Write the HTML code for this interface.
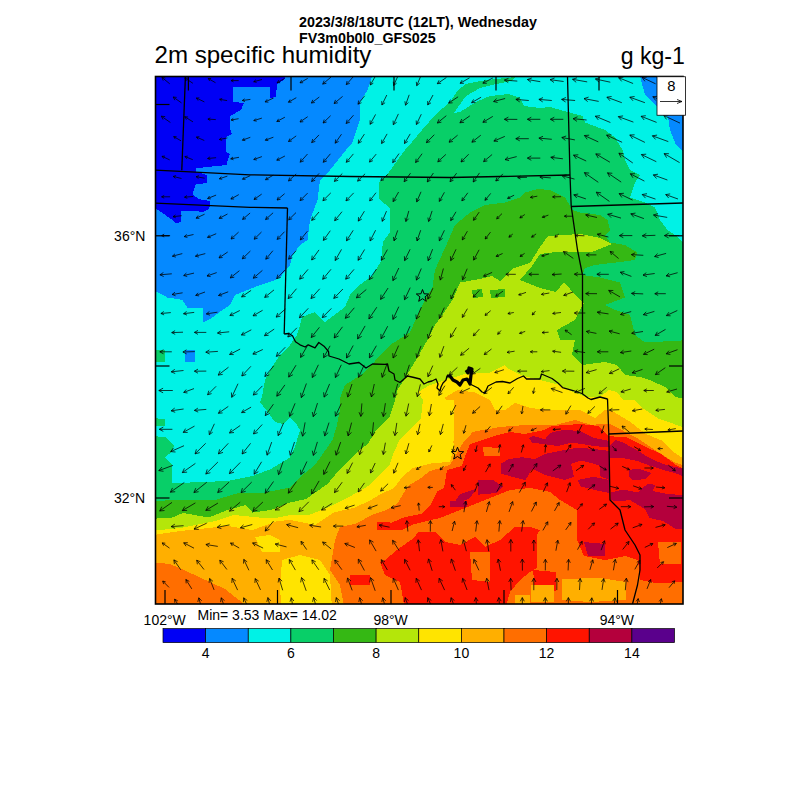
<!DOCTYPE html><html><head><meta charset="utf-8"><style>html,body{margin:0;padding:0;background:#fff;width:800px;height:800px;overflow:hidden}svg{display:block}text{font-family:"Liberation Sans",sans-serif}</style></head><body>
<svg width="800" height="800" viewBox="0 0 800 800">
<defs><clipPath id="mc"><rect x="155.5" y="76.5" width="527.5" height="527.5"/></clipPath></defs>
<g clip-path="url(#mc)" shape-rendering="crispEdges">
<rect x="155.5" y="76.5" width="527.5" height="527.5" fill="#00f2e6"/>
<path d="M150.0,70.0 L372.0,70.0 L372.0,76.0 L367.5,90.0 L360.0,102.0 L360.0,120.0 L352.5,142.5 L350.0,145.0 L330.0,170.0 L320.0,180.0 L317.5,200.0 L310.0,220.0 L307.5,240.0 L300.0,245.0 L292.5,255.0 L290.0,265.0 L280.0,277.5 L275.0,280.0 L260.0,285.0 L245.0,291.0 L235.0,295.0 L230.0,305.0 L222.5,310.0 L212.5,317.5 L202.5,322.5 L202.5,307.5 L187.5,307.5 L182.5,300.0 L167.5,297.5 L155.0,291.0 L150.0,291.0Z" fill="#0589ff"/>
<path d="M185.0,350.0 L195.0,350.0 L195.0,362.0 L185.0,362.0Z" fill="#0589ff"/>
<path d="M640.0,70.0 L640.0,76.0 L645.0,95.0 L655.0,105.0 L662.0,112.0 L668.0,117.0 L670.0,130.0 L676.0,145.0 L683.0,152.0 L690.0,152.0 L690.0,70.0Z" fill="#0589ff"/>
<path d="M150.0,70.0 L290.0,70.0 L284.0,80.0 L277.0,84.0 L276.0,97.0 L270.0,98.0 L270.0,87.0 L233.0,87.0 L233.0,102.0 L244.0,103.0 L241.0,110.0 L230.0,116.0 L230.0,129.0 L232.0,134.0 L226.0,137.0 L225.6,152.0 L229.7,154.0 L226.4,165.0 L195.5,168.3 L195.5,171.5 L207.0,175.0 L207.0,183.0 L195.5,184.6 L192.3,194.3 L198.8,199.2 L210.2,201.0 L209.3,209.0 L202.0,212.2 L195.5,210.6 L181.0,210.6 L181.0,222.0 L176.0,223.6 L172.8,220.3 L161.4,212.2 L150.0,205.0Z" fill="#0000f5"/>
<path d="M516.0,70.0 L516.0,77.0 L496.0,79.0 L480.0,81.0 L466.0,84.0 L458.0,90.0 L450.0,102.0 L436.0,114.0 L422.0,130.0 L412.0,142.0 L405.0,150.0 L399.0,158.0 L387.0,175.0 L379.0,182.0 L379.0,199.0 L389.6,207.7 L389.6,233.0 L383.0,241.7 L381.0,261.0 L372.5,275.7 L357.7,286.4 L350.0,295.0 L345.0,307.0 L325.0,322.0 L317.0,315.0 L315.0,312.0 L302.0,317.0 L300.0,325.0 L297.0,335.0 L290.0,345.0 L280.0,355.0 L272.0,367.0 L265.0,380.0 L262.0,397.0 L260.0,402.0 L270.0,415.0 L275.0,422.0 L283.0,424.0 L290.0,417.0 L297.0,425.0 L300.0,430.0 L295.0,447.0 L290.0,457.5 L271.0,469.0 L252.5,476.0 L227.5,481.0 L190.0,482.5 L172.0,483.0 L172.0,465.0 L165.0,457.0 L172.0,452.0 L174.0,445.0 L165.0,437.0 L150.0,436.0 L150.0,610.0 L690.0,610.0 L690.0,250.0 L675.0,235.0 L667.5,230.0 L660.0,220.0 L655.0,207.5 L645.0,202.5 L630.0,197.5 L635.0,182.5 L640.0,175.0 L630.0,170.0 L625.0,160.0 L622.5,150.0 L615.0,137.5 L605.0,130.0 L585.0,122.5 L582.5,116.0 L575.0,114.0 L550.0,107.0 L540.0,108.0 L524.0,106.0 L520.0,98.0 L508.0,94.0 L490.0,96.0 L476.0,102.0 L460.0,112.0 L454.0,113.0 L456.0,110.0 L466.0,96.0 L480.0,88.0 L496.0,84.0 L512.0,81.0 L520.0,70.0Z" fill="#08cf68"/>
<path d="M150.0,350.0 L165.0,350.0 L165.0,362.0 L150.0,362.0Z" fill="#08cf68"/>
<path d="M150.0,418.0 L165.0,419.0 L165.0,426.0 L150.0,426.0Z" fill="#08cf68"/>
<path d="M435.0,270.0 L445.0,248.0 L455.0,225.0 L470.0,212.5 L485.0,205.0 L505.0,202.5 L520.0,197.5 L525.0,192.5 L537.5,189.0 L550.0,190.0 L565.0,197.5 L572.5,210.0 L580.0,212.5 L600.0,215.0 L607.5,220.0 L610.0,230.0 L605.0,235.0 L610.0,242.5 L625.0,245.0 L637.5,252.5 L635.0,260.0 L620.0,262.0 L595.0,265.0 L585.0,268.0 L582.5,275.0 L600.0,277.5 L620.0,282.5 L625.0,297.5 L605.0,305.0 L615.0,310.0 L630.0,315.0 L632.5,325.0 L635.0,335.0 L645.0,342.5 L690.0,340.0 L690.0,610.0 L150.0,610.0 L150.0,501.0 L195.0,499.5 L215.0,500.0 L240.0,492.5 L265.0,492.5 L290.0,487.5 L302.5,475.0 L315.0,465.0 L332.5,440.0 L337.0,425.0 L340.0,410.0 L340.0,398.0 L345.0,385.0 L361.0,375.0 L375.0,361.0 L390.0,345.0 L410.0,332.5 L417.5,315.0 L425.0,300.0 L432.5,287.5Z" fill="#35b814"/>
<path d="M150.0,519.0 L172.5,517.5 L183.0,513.0 L209.0,517.5 L227.5,510.0 L246.0,505.0 L252.5,512.5 L271.0,510.0 L290.0,502.5 L306.0,499.0 L327.5,484.0 L340.0,469.0 L356.0,453.0 L367.6,444.0 L377.0,429.0 L390.0,416.0 L395.0,400.0 L397.5,390.0 L402.5,382.5 L410.0,370.0 L417.5,357.5 L427.5,340.0 L435.0,325.0 L442.5,315.0 L452.5,300.0 L460.0,282.5 L480.0,279.0 L492.0,276.0 L500.0,281.0 L514.0,268.0 L530.0,263.0 L540.0,247.0 L548.0,236.0 L580.0,234.0 L600.0,238.0 L612.0,244.0 L592.0,252.0 L556.0,252.0 L540.0,254.0 L532.0,266.0 L520.0,280.0 L540.0,288.0 L556.0,292.0 L564.0,282.0 L576.0,296.0 L584.0,303.0 L580.0,310.0 L575.0,320.0 L557.0,330.0 L560.0,340.0 L575.0,340.0 L572.0,355.0 L582.0,365.0 L605.0,362.0 L617.0,365.0 L625.0,375.0 L640.0,377.0 L650.0,380.0 L665.0,387.0 L675.0,397.0 L690.0,400.0 L690.0,610.0 L150.0,610.0Z" fill="#b4e60a"/>
<path d="M472.0,290.0 L482.0,289.0 L483.0,297.0 L473.0,298.0Z" fill="#35b814"/>
<path d="M490.0,290.0 L505.0,289.0 L505.0,297.0 L491.0,298.0Z" fill="#35b814"/>
<path d="M150.0,531.0 L180.0,528.0 L215.0,521.0 L234.0,515.0 L259.0,517.5 L277.5,517.5 L290.0,515.0 L309.0,515.0 L327.5,507.5 L352.5,495.0 L370.0,485.0 L381.0,473.0 L390.0,464.0 L394.0,452.0 L400.0,439.0 L411.0,429.0 L421.0,418.0 L423.0,400.0 L418.0,392.0 L430.0,385.0 L445.0,380.0 L470.0,372.5 L490.0,372.5 L505.0,365.0 L507.0,368.0 L522.0,375.5 L540.0,380.0 L558.0,384.5 L573.0,392.0 L585.0,396.5 L600.0,396.5 L609.0,390.0 L617.0,392.0 L623.0,400.0 L634.0,400.0 L644.0,409.0 L659.0,419.0 L674.0,424.0 L690.0,430.0 L690.0,610.0 L150.0,610.0Z" fill="#ffe400"/>
<path d="M150.0,535.5 L180.0,531.0 L227.5,526.0 L252.5,530.0 L277.5,521.0 L290.0,520.0 L315.0,525.0 L334.0,512.5 L355.0,507.5 L371.0,500.0 L381.0,494.0 L394.0,488.0 L403.0,476.0 L413.0,468.0 L433.0,463.0 L450.0,462.0 L454.0,445.0 L450.0,432.0 L447.0,413.0 L446.0,400.0 L445.0,397.5 L457.5,390.0 L475.0,392.5 L490.0,400.0 L495.0,410.0 L505.0,410.0 L515.0,403.0 L530.0,408.0 L550.0,410.0 L580.0,410.0 L595.0,418.0 L605.0,410.0 L612.0,411.0 L629.0,421.0 L646.0,434.0 L663.0,441.0 L674.0,452.5 L690.0,463.0 L690.0,610.0 L150.0,610.0Z" fill="#ffaf00"/>
<path d="M282.0,560.0 L300.0,555.0 L320.0,560.0 L330.0,575.0 L332.0,610.0 L282.0,610.0 L280.0,590.0Z" fill="#ffe400"/>
<path d="M255.0,537.0 L270.0,535.0 L280.0,540.0 L280.0,552.0 L262.0,552.0Z" fill="#ffe400"/>
<path d="M440.0,400.0 L454.0,400.0 L454.0,440.0 L447.0,458.0 L440.0,455.0Z" fill="#ffe400"/>
<path d="M150.0,562.0 L170.0,564.0 L184.0,570.0 L200.0,577.5 L225.0,589.0 L244.0,604.0 L244.0,610.0 L150.0,610.0Z" fill="#ff6e00"/>
<path d="M335.0,540.0 L340.0,527.0 L356.0,523.6 L372.0,515.0 L386.0,510.0 L397.0,504.0 L408.0,486.0 L421.0,478.0 L429.0,471.5 L450.0,465.0 L464.0,441.0 L470.0,436.0 L472.0,432.0 L500.0,427.0 L525.0,425.0 L555.0,425.0 L575.0,420.0 L592.0,425.0 L600.0,424.0 L610.0,424.0 L636.0,437.5 L659.0,452.5 L674.0,462.0 L690.0,468.0 L690.0,610.0 L345.0,610.0 L340.0,585.0 L330.0,570.0Z" fill="#ff6e00"/>
<path d="M382.0,530.0 L389.0,523.6 L405.0,517.0 L421.0,514.0 L431.0,504.0 L437.6,491.0 L444.0,488.0 L447.0,470.0 L462.0,466.0 L466.0,454.0 L470.0,444.0 L494.0,436.0 L510.0,432.0 L524.0,434.0 L544.0,430.0 L552.0,426.0 L580.0,424.0 L599.0,426.0 L608.0,436.0 L627.0,437.5 L642.0,445.0 L661.0,454.0 L677.5,466.0 L690.0,471.0 L690.0,582.0 L655.0,583.0 L640.0,580.0 L638.0,560.0 L625.0,556.0 L605.0,560.0 L584.0,556.0 L577.0,540.0 L577.0,510.0 L560.0,500.0 L550.0,492.0 L530.0,488.0 L510.0,490.0 L490.0,498.0 L460.0,510.0 L440.0,518.0 L431.0,520.0 L411.5,525.0 L401.8,530.0Z" fill="#ff1400"/>
<path d="M380.0,562.0 L385.0,560.0 L397.0,550.0 L415.0,537.0 L418.0,532.0 L435.0,532.0 L445.0,542.0 L460.0,545.0 L475.0,537.0 L485.0,547.0 L500.0,540.0 L515.0,527.0 L530.0,527.0 L540.0,530.0 L537.0,535.0 L537.0,568.0 L530.0,572.0 L520.0,580.0 L510.0,592.0 L505.0,610.0 L405.0,610.0 L400.0,582.0 L385.0,575.0Z" fill="#ff1400"/>
<path d="M350.0,575.0 L370.0,575.0 L370.0,585.0 L350.0,585.0Z" fill="#ff1400"/>
<path d="M533.0,570.0 L556.0,572.0 L556.0,591.0 L535.0,590.0Z" fill="#ff1400"/>
<path d="M377.0,522.0 L390.0,522.0 L390.0,530.0 L377.0,530.0Z" fill="#ff1400"/>
<path d="M470.0,552.0 L490.0,552.0 L490.0,582.0 L472.0,580.0Z" fill="#ff6e00"/>
<path d="M658.0,542.0 L681.0,542.0 L681.0,564.0 L660.0,564.0Z" fill="#ff6e00"/>
<path d="M562.0,579.0 L600.0,578.0 L626.0,582.0 L626.0,600.0 L590.0,602.0 L562.0,600.0Z" fill="#ffaf00"/>
<path d="M531.0,585.0 L554.0,585.0 L554.0,602.0 L531.0,602.0Z" fill="#ffaf00"/>
<path d="M515.0,595.0 L530.0,595.0 L530.0,610.0 L515.0,610.0Z" fill="#ffaf00"/>
<path d="M528.8,437.8 L533.7,436.0 L545.0,439.4 L550.0,433.0 L564.5,429.6 L580.8,431.3 L593.8,437.8 L609.0,441.0 L609.0,447.5 L593.8,446.0 L584.0,444.3 L571.0,442.6 L558.0,446.0 L545.0,444.3 L532.0,442.6Z" fill="#b4003c"/>
<path d="M501.0,463.8 L509.0,459.0 L522.0,457.3 L535.0,459.0 L545.0,454.0 L561.0,450.8 L577.6,447.5 L593.8,449.0 L609.0,450.8 L609.0,468.7 L593.8,463.8 L581.0,460.5 L571.0,463.8 L574.0,476.8 L564.5,480.0 L545.0,475.0 L532.0,468.7 L525.5,480.0 L512.5,476.8 L501.0,473.5Z" fill="#b4003c"/>
<path d="M478.0,480.0 L493.0,480.0 L502.8,486.5 L496.0,493.0 L478.0,494.7Z" fill="#b4003c"/>
<path d="M577.6,480.0 L593.8,476.8 L609.0,480.0 L609.0,493.0 L593.8,489.8 L581.0,486.5Z" fill="#b4003c"/>
<path d="M609.0,446.0 L615.0,440.0 L624.0,443.0 L637.5,450.5 L649.5,458.0 L663.0,464.0 L675.0,467.0 L690.0,470.0 L690.0,479.0 L675.0,473.0 L663.0,470.0 L649.5,465.5 L637.5,461.0 L622.5,458.0 L610.5,458.0Z" fill="#b4003c"/>
<path d="M628.5,470.0 L637.5,468.5 L651.0,473.0 L645.0,479.0 L633.0,480.5 L628.5,476.0Z" fill="#b4003c"/>
<path d="M610.5,492.5 L622.5,489.5 L637.5,492.5 L648.0,483.5 L655.5,485.0 L652.5,491.0 L667.5,494.0 L690.0,495.5 L690.0,530.0 L675.0,528.5 L663.0,521.0 L649.5,518.0 L645.0,509.0 L630.0,500.0 L618.0,501.5 L610.5,500.0Z" fill="#b4003c"/>
<path d="M600.0,455.0 L609.0,452.0 L609.0,480.0 L600.0,476.0Z" fill="#b4003c"/>
<path d="M584.0,542.0 L605.0,544.0 L605.0,556.0 L588.0,556.0Z" fill="#b4003c"/>
<path d="M450.0,501.0 L467.0,501.0 L467.0,507.0 L450.0,507.0Z" fill="#b4003c"/>
<path d="M460.0,494.0 L476.0,489.0 L470.0,498.0 L452.0,506.0Z" fill="#b4003c"/>
<path d="M483.0,447.0 L500.0,448.0 L500.0,456.0 L484.0,456.0Z" fill="#ff6e00"/>
</g>
<g clip-path="url(#mc)">
<polyline points="185.4,76.5 181.8,170.2" fill="none" stroke="#000" stroke-width="1.30" stroke-linejoin="round"/>
<polyline points="155.5,170.2 250.0,174.8 350.0,176.5 450.0,177.5 500.0,176.5 570.0,175.0" fill="none" stroke="#000" stroke-width="1.30" stroke-linejoin="round"/>
<polyline points="155.5,203.2 250.0,207.3 287.5,208.0" fill="none" stroke="#000" stroke-width="1.30" stroke-linejoin="round"/>
<polyline points="287.5,208.0 284.2,334.0" fill="none" stroke="#000" stroke-width="1.30" stroke-linejoin="round"/>
<polyline points="284.2,334.0 288.8,333.5 292.5,335.8 295.5,341.8 300.0,344.8 305.2,347.0 308.2,344.8 315.0,347.8 318.8,342.5 324.0,346.2 328.5,351.5 329.0,356.0 339.0,359.0 349.0,364.0 359.0,362.5 366.0,368.0 372.5,364.0 385.0,364.4 387.5,364.0 389.0,371.0 394.0,374.0 395.0,380.0 400.0,382.5 407.5,376.0 414.0,377.5 420.0,379.0 424.0,384.0 428.0,382.0 432.0,381.0 436.0,379.0 438.0,384.0 437.0,388.0 440.0,391.0 441.0,387.0 443.0,383.0 446.0,380.0 447.0,376.0 450.0,376.0 453.0,380.0 457.0,382.0 460.0,385.0 463.0,380.0 467.0,379.0 469.0,382.0 470.0,384.0 474.0,386.0 478.0,388.0 482.0,392.0 485.0,393.0 488.0,386.0 492.0,384.0 496.0,382.0 502.5,381.5 510.0,383.0 517.5,378.5 523.5,376.0 526.5,379.0 540.0,379.0 541.5,374.0 552.0,378.5 558.0,383.0 562.5,387.5 573.0,390.5 582.0,393.5 588.0,398.0 591.0,399.5 600.0,397.0 607.5,399.0" fill="none" stroke="#000" stroke-width="1.30" stroke-linejoin="round"/>
<polyline points="567.5,76.5 570.0,175.0 571.2,206.2 577.5,250.0 582.5,275.0 582.5,393.8" fill="none" stroke="#000" stroke-width="1.30" stroke-linejoin="round"/>
<polyline points="571.2,206.5 683.0,203.0" fill="none" stroke="#000" stroke-width="1.30" stroke-linejoin="round"/>
<polyline points="607.5,398.8 608.8,434.0 683.0,431.0" fill="none" stroke="#000" stroke-width="1.30" stroke-linejoin="round"/>
<polyline points="608.8,434.0 610.0,500.0 620.0,510.0 625.0,530.0 635.0,545.0 640.0,555.0 640.0,570.0 637.5,585.0 632.5,604.0" fill="none" stroke="#000" stroke-width="1.30" stroke-linejoin="round"/>
<polyline points="447.0,376.0 450.0,376.0 453.0,380.0 457.0,382.0 460.0,385.0 463.0,380.0 467.0,379.0 469.0,382.0 470.0,384.0 471.0,375.0 472.0,369.0 469.0,368.0 468.0,373.0 466.0,370.0" fill="none" stroke="#000" stroke-width="3.20" stroke-linejoin="round"/>
</g>
<g clip-path="url(#mc)"><path d="M169.8,83.9L161.9,77.3M165.4,78.0L161.9,77.3L163.2,80.6M192.9,83.3L184.8,77.9M188.2,78.2L184.8,77.9L186.4,80.9M215.5,82.7L208.2,78.5M211.1,78.5L208.2,78.5L209.7,81.0M238.7,80.6L231.0,80.6M233.5,79.3L231.0,80.6L233.5,81.9M262.0,79.5L253.7,81.7M255.9,79.6L253.7,81.7L256.6,82.4M284.5,78.5L277.2,82.7M278.7,80.2L277.2,82.7L280.1,82.7M307.7,78.4L300.0,82.8M301.6,80.2L300.0,82.8L303.1,82.7M331.0,77.1L322.7,84.1M324.1,80.6L322.7,84.1L326.4,83.3M353.4,76.6L346.3,84.6M347.1,81.0L346.3,84.6L349.8,83.3M375.4,76.2L370.3,85.0M370.4,81.4L370.3,85.0L373.3,83.2M398.1,75.7L393.6,85.5M393.3,81.7L393.6,85.5L396.6,83.2M421.0,75.5L416.7,85.7M416.3,81.8L416.7,85.7L419.7,83.3M446.4,77.5L437.3,83.7M439.0,80.3L437.3,83.7L441.1,83.3M469.6,77.8L460.1,83.3M462.1,80.1L460.1,83.3L463.9,83.3M492.8,78.0L482.9,83.2M485.1,79.9L482.9,83.2L486.8,83.3M517.3,81.1L504.4,80.1M508.5,78.3L504.4,80.1L508.2,82.6M540.3,81.7L527.4,79.5M531.8,78.0L527.4,79.5L531.0,82.3M563.6,81.5L550.1,79.7M554.6,78.0L550.1,79.7L554.0,82.5M587.2,81.9L572.5,79.3M577.0,77.8L572.5,79.3L576.2,82.3M610.3,82.2L595.4,79.0M600.1,77.6L595.4,79.0L599.1,82.1M633.1,83.5L618.6,77.7M623.4,77.1L618.6,77.7L621.7,81.4M655.6,83.8L642.1,77.4M646.8,77.1L642.1,77.4L644.9,81.3M678.9,83.8L664.8,77.4M669.6,77.0L664.8,77.4L667.7,81.2M181.5,102.9L173.2,97.0M176.7,97.4L173.2,97.0L174.8,100.2M204.4,101.9L196.3,98.0M199.4,97.9L196.3,98.0L198.1,100.6M227.1,100.6L219.6,99.3M222.2,98.4L219.6,99.3L221.8,101.1M250.4,99.4L242.3,100.5M244.6,98.8L242.3,100.5L245.0,101.5M273.6,98.0L265.1,101.9M267.1,99.3L265.1,101.9L268.4,102.2M296.3,97.7L288.4,102.2M290.1,99.5L288.4,102.2L291.6,102.2M319.3,97.0L311.4,103.0M312.8,99.8L311.4,103.0L314.8,102.5M342.6,96.4L334.1,103.5M335.5,99.9L334.1,103.5L337.9,102.8M364.7,95.8L358.0,104.2M358.6,100.5L358.0,104.2L361.5,102.7M386.8,95.0L381.9,105.0M381.7,101.1L381.9,105.0L385.1,102.7M409.2,94.8L405.5,105.2M404.9,101.3L405.5,105.2L408.4,102.6M433.0,95.0L427.7,104.9M427.7,101.0L427.7,104.9L431.0,102.8M458.1,96.8L448.6,103.1M450.5,99.6L448.6,103.1L452.6,102.8M481.1,97.2L471.6,102.7M473.6,99.4L471.6,102.7L475.4,102.6M505.1,98.5L493.6,101.5M496.6,98.6L493.6,101.5L497.6,102.5M528.8,100.5L515.9,99.4M520.0,97.6L515.9,99.4L519.7,101.9M551.8,100.5L538.9,99.4M543.0,97.6L538.9,99.4L542.7,101.9M575.1,100.5L561.6,99.4M565.9,97.5L561.6,99.4L565.6,102.0M598.7,101.4L584.0,98.6M588.6,97.1L584.0,98.6L587.7,101.6M621.8,102.7L606.9,97.2M611.6,96.5L606.9,97.2L610.0,100.8M644.9,102.7L629.8,97.2M634.6,96.5L629.8,97.2L633.0,100.8M667.9,103.2L652.8,96.7M657.6,96.3L652.8,96.7L655.7,100.5M170.4,122.5L161.3,116.2M165.2,116.6L161.3,116.2L163.0,119.6M193.0,121.9L184.7,116.7M188.1,117.0L184.7,116.7L186.4,119.7M215.8,119.6L207.9,119.1M210.4,117.9L207.9,119.1L210.3,120.6M238.6,118.7L231.1,120.0M233.3,118.3L231.1,120.0L233.7,120.9M261.9,118.1L253.8,120.6M255.9,118.5L253.8,120.6L256.7,121.2M284.9,117.2L276.8,121.5M278.6,118.8L276.8,121.5L280.0,121.5M307.7,116.7L300.0,122.0M301.5,119.1L300.0,122.0L303.3,121.7M330.6,115.7L323.1,123.0M324.2,119.5L323.1,123.0L326.6,122.0M353.5,115.2L346.2,123.5M347.1,119.7L346.2,123.5L349.9,122.1M375.6,114.4L370.1,124.3M370.1,120.3L370.1,124.3L373.5,122.2M398.4,113.9L393.3,124.7M393.1,120.6L393.3,124.7L396.7,122.3M421.3,114.2L416.4,124.5M416.2,120.5L416.4,124.5L419.6,122.2M446.3,115.7L437.4,123.0M438.9,119.3L437.4,123.0L441.4,122.2M469.8,115.9L459.9,122.8M461.8,119.0L459.9,122.8L464.1,122.3M492.8,116.4L482.9,122.3M484.9,118.8L482.9,122.3L486.9,122.1M517.3,119.4L504.4,119.3M508.4,117.1L504.4,119.3L508.3,121.5M540.3,119.3L527.4,119.3M531.3,117.2L527.4,119.3L531.3,121.5M563.3,119.3L550.4,119.3M554.3,117.2L550.4,119.3L554.3,121.5M586.6,120.0L573.1,118.7M577.5,116.8L573.1,118.7L577.0,121.4M610.4,122.5L595.3,116.2M600.1,115.7L595.3,116.2L598.3,119.9M633.4,122.1L618.3,116.6M623.1,115.9L618.3,116.6L621.5,120.2M656.6,122.4L641.1,116.3M645.8,115.7L641.1,116.3L644.2,120.0M680.0,123.1L663.7,115.5M668.5,115.2L663.7,115.5L666.5,119.4M181.0,140.8L173.7,136.6M176.6,136.7L173.7,136.6L175.2,139.1M204.3,140.5L196.4,137.0M199.4,136.7L196.4,137.0L198.2,139.4M227.4,137.9L219.3,139.5M221.5,137.7L219.3,139.5L222.1,140.4M250.3,137.3L242.4,140.2M244.3,137.9L242.4,140.2L245.3,140.6M273.4,137.2L265.3,140.2M267.3,137.9L265.3,140.2L268.3,140.6M296.2,135.9L288.5,141.5M289.9,138.5L288.5,141.5L291.8,141.1M319.0,134.9L311.7,142.6M312.7,139.0L311.7,142.6L315.3,141.4M341.5,134.2L335.2,143.2M335.6,139.4L335.2,143.2L338.6,141.5M364.4,134.1L358.3,143.3M358.6,139.5L358.3,143.3L361.7,141.5M387.1,133.9L381.6,143.5M381.7,139.6L381.6,143.5L384.9,141.5M410.2,133.9L404.5,143.5M404.6,139.6L404.5,143.5L407.8,141.5M434.3,134.7L426.4,142.7M427.5,138.9L426.4,142.7L430.2,141.6M457.6,135.2L449.1,142.2M450.5,138.7L449.1,142.2L452.9,141.5M480.8,135.2L471.9,142.2M473.5,138.6L471.9,142.2L475.8,141.5M504.8,136.4L493.9,141.1M496.5,137.8L493.9,141.1L498.0,141.4M528.8,138.7L515.8,138.7M519.8,136.5L515.8,138.7L519.8,140.9M551.8,139.3L538.9,138.1M543.0,136.3L538.9,138.1L542.7,140.7M574.9,139.9L561.8,137.5M566.2,136.0L561.8,137.5L565.4,140.4M598.3,141.9L584.4,135.5M589.2,135.2L584.4,135.5L587.2,139.3M622.1,142.3L606.6,135.1M611.4,134.8L606.6,135.1L609.5,139.0M644.9,142.4L629.8,135.0M634.6,134.8L629.8,135.0L632.6,138.9M668.3,141.6L652.4,135.8M657.1,135.1L652.4,135.8L655.5,139.4M169.7,159.9L162.0,156.3M165.0,156.1L162.0,156.3L163.8,158.7M192.8,159.7L184.9,156.5M187.8,156.1L184.9,156.5L186.8,158.8M216.1,157.7L207.6,158.5M210.1,156.8L207.6,158.5L210.4,159.7M239.0,157.3L230.7,158.8M233.0,157.0L230.7,158.8L233.5,159.8M261.9,156.6L253.8,159.5M255.8,157.3L253.8,159.5L256.8,160.0M284.9,156.0L276.8,160.2M278.6,157.5L276.8,160.2L280.0,160.2M307.5,154.0L300.2,162.2M301.1,158.4L300.2,162.2L303.8,160.9M330.4,153.8L323.3,162.3M324.1,158.5L323.3,162.3L326.9,160.9M353.4,153.9L346.3,162.3M347.1,158.5L346.3,162.3L349.9,160.9M376.2,154.1L369.5,162.1M370.2,158.5L369.5,162.1L372.9,160.7M399.0,153.6L392.7,162.6M393.1,158.8L392.7,162.6L396.1,160.9M422.1,153.7L415.6,162.5M416.1,158.7L415.6,162.5L419.1,160.9M445.9,154.4L437.8,161.8M439.0,158.1L437.8,161.8L441.5,160.9M468.7,154.2L461.0,162.0M462.1,158.3L461.0,162.0L464.7,160.9M492.1,154.5L483.6,161.6M485.0,158.0L483.6,161.6L487.4,160.9M516.7,156.6L505.0,159.6M508.1,156.7L505.0,159.6L509.1,160.6M540.3,158.1L527.4,158.1M531.3,155.9L527.4,158.1L531.3,160.3M562.9,158.8L550.8,157.3M554.8,155.8L550.8,157.3L554.3,159.8M586.2,161.0L573.5,155.1M578.3,154.8L573.5,155.1L576.4,159.0M609.9,162.2L595.8,153.9M600.6,154.1L595.8,153.9L598.3,158.1M632.8,163.0L618.9,153.2M623.7,153.7L618.9,153.2L621.0,157.5M656.3,161.7L641.4,154.5M646.2,154.2L641.4,154.5L644.2,158.4M679.6,162.6L664.1,153.6M668.9,153.7L664.1,153.6L666.6,157.7M181.5,178.5L173.2,176.4M176.1,175.6L173.2,176.4L175.4,178.4M204.6,178.2L196.1,176.7M199.0,175.7L196.1,176.7L198.5,178.6M227.4,176.1L219.3,178.8M221.3,176.6L219.3,178.8L222.2,179.3M250.2,175.7L242.5,179.2M244.3,176.9L242.5,179.2L245.5,179.4M273.2,175.2L265.5,179.7M267.1,177.0L265.5,179.7L268.6,179.6M296.2,174.0L288.5,180.9M289.7,177.5L288.5,180.9L292.0,180.0M319.1,173.4L311.6,181.5M312.5,177.7L311.6,181.5L315.2,180.3M342.3,173.5L334.4,181.4M335.5,177.6L334.4,181.4L338.2,180.3M365.1,173.8L357.6,181.1M358.7,177.6L357.6,181.1L361.1,180.1M387.9,174.4L380.8,180.5M382.0,177.4L380.8,180.5L384.0,179.8M410.5,173.2L404.2,181.7M404.7,178.0L404.2,181.7L407.5,180.1M433.4,173.0L427.3,181.9M427.7,178.1L427.3,181.9L430.7,180.2M456.6,173.2L450.1,181.7M450.7,178.0L450.1,181.7L453.5,180.2M479.5,172.9L473.2,182.0M473.6,178.1L473.2,182.0L476.6,180.2M502.9,173.9L495.8,181.0M496.8,177.6L495.8,181.0L499.2,180.0M527.0,177.3L517.7,177.6M520.5,175.9L517.7,177.6L520.6,179.1M550.8,177.9L539.9,177.0M543.4,175.4L539.9,177.0L543.1,179.1M574.5,179.1L562.2,175.8M566.5,174.8L562.2,175.8L565.4,178.9M598.3,182.3L584.4,172.6M589.2,173.1L584.4,172.6L586.5,176.9M621.2,182.1L607.5,172.8M612.3,173.3L607.5,172.8L609.7,177.1M644.4,181.1L630.3,173.8M635.1,173.7L630.3,173.8L633.0,177.8M667.4,180.0L653.3,174.9M658.0,174.2L653.3,174.9L656.5,178.5M170.1,196.8L161.6,196.8M164.2,195.4L161.6,196.8L164.2,198.2M193.2,196.5L184.5,197.2M187.0,195.5L184.5,197.2L187.3,198.4M216.1,195.1L207.6,198.5M209.6,196.0L207.6,198.5L210.8,198.9M238.8,194.6L230.9,199.0M232.6,196.4L230.9,199.0L234.1,199.0M261.7,194.1L254.0,199.5M255.5,196.6L254.0,199.5L257.3,199.1M284.6,193.7L277.1,200.0M278.3,196.8L277.1,200.0L280.5,199.3M307.6,193.1L300.1,200.6M301.1,197.0L300.1,200.6L303.7,199.5M330.8,192.9L322.9,200.7M324.0,197.0L322.9,200.7L326.7,199.6M353.7,192.9L346.0,200.8M347.0,197.0L346.0,200.8L349.7,199.6M376.0,192.7L369.7,200.9M370.2,197.3L369.7,200.9L373.0,199.5M398.6,192.0L393.1,201.6M393.2,197.7L393.1,201.6L396.4,199.6M421.0,191.8L416.7,201.9M416.3,198.1L416.7,201.9L419.7,199.5M444.4,192.3L439.3,201.4M439.3,197.7L439.3,201.4L442.4,199.4M467.8,192.8L461.9,200.8M462.4,197.4L461.9,200.8L465.1,199.4M490.7,193.4L485.0,200.3M485.6,197.2L485.0,200.3L487.9,199.1M514.1,195.2L507.6,198.4M509.2,196.1L507.6,198.4L510.4,198.5M537.3,196.2L530.4,197.4M532.6,195.7L530.4,197.4L533.1,198.3M561.1,196.7L552.6,196.9M555.2,195.4L552.6,196.9L555.2,198.3M585.9,198.9L573.8,194.8M578.2,194.0L573.8,194.8L576.8,198.0M609.4,201.4L596.3,192.2M601.1,192.8L596.3,192.2L598.4,196.5M632.6,200.1L619.1,193.6M623.9,193.3L619.1,193.6L621.9,197.5M655.5,199.1L642.2,194.5M647.0,193.7L642.2,194.5L645.5,198.1M678.0,199.0L665.7,194.6M670.2,193.9L665.7,194.6L668.7,198.0M181.7,215.7L173.0,216.7M175.5,214.9L173.0,216.7L175.8,217.8M204.6,214.2L196.1,218.2M198.1,215.5L196.1,218.2L199.4,218.4M227.5,214.0L219.2,218.4M221.0,215.6L219.2,218.4L222.5,218.4M250.1,213.0L242.6,219.4M243.8,216.2L242.6,219.4L246.0,218.7M273.1,212.8L265.6,219.5M266.8,216.2L265.6,219.5L269.0,218.7M296.0,212.6L288.7,219.8M289.7,216.4L288.7,219.8L292.2,218.8M319.0,212.0L311.7,220.4M312.5,216.6L311.7,220.4L315.4,219.0M342.0,211.7L334.7,220.7M335.4,216.7L334.7,220.7L338.5,219.1M364.4,211.2L358.3,221.1M358.5,217.1L358.3,221.1L361.8,219.1M386.5,211.1L382.2,221.3M381.8,217.4L382.2,221.3L385.2,218.9M408.8,210.9L405.9,221.5M405.0,217.8L405.9,221.5L408.6,218.7M432.1,210.9L428.6,221.5M427.9,217.6L428.6,221.5L431.4,218.8M456.0,211.8L450.7,220.6M450.9,217.0L450.7,220.6L453.8,218.8M479.2,212.1L473.5,220.3M473.9,216.8L473.5,220.3L476.6,218.7M502.0,213.6L496.7,218.8M497.5,216.1L496.7,218.8L499.4,218.0M524.8,214.5L519.9,217.9M521.1,215.4L519.9,217.9L522.7,217.6M548.4,215.1L542.3,217.3M544.2,215.2L542.3,217.3L545.1,217.7M572.3,216.2L564.4,216.2M566.8,214.8L564.4,216.2L566.8,217.5M597.0,217.5L585.7,214.9M589.6,213.8L585.7,214.9L588.8,217.6M621.0,218.1L607.7,214.2M612.4,213.2L607.7,214.2L611.1,217.6M643.9,218.6L630.8,213.8M635.5,213.1L630.8,213.8L633.9,217.4M667.2,217.4L653.5,215.0M658.0,213.5L653.5,215.0L657.2,218.0M170.1,235.6L161.6,235.6M164.2,234.1L161.6,235.6L164.2,237.0M193.5,234.5L184.2,236.6M186.7,234.4L184.2,236.6L187.4,237.5M216.2,233.7L207.5,237.4M209.5,234.8L207.5,237.4L210.8,237.7M238.6,232.1L231.1,239.0M232.2,235.6L231.1,239.0L234.6,238.2M261.5,232.0L254.2,239.2M255.2,235.7L254.2,239.2L257.7,238.2M284.5,231.7L277.2,239.4M278.2,235.8L277.2,239.4L280.7,238.3M307.4,231.2L300.3,239.9M301.0,236.0L300.3,239.9L303.9,238.4M330.3,230.7L323.4,240.4M323.9,236.3L323.4,240.4L327.2,238.6M353.2,230.3L346.5,240.8M346.8,236.5L346.5,240.8L350.3,238.7M375.6,230.2L370.1,240.9M370.0,236.7L370.1,240.9L373.6,238.5M397.7,230.4L394.0,240.8M393.4,236.9L394.0,240.8L396.9,238.2M420.7,230.2L417.0,240.9M416.3,237.0L417.0,240.9L419.9,238.3M444.4,230.3L439.3,240.8M439.1,236.7L439.3,240.8L442.6,238.4M467.4,231.2L462.3,239.9M462.4,236.4L462.3,239.9L465.3,238.1M490.5,232.1L485.2,239.0M485.7,236.0L485.2,239.0L488.0,237.8M512.8,234.0L508.9,237.2M510.0,234.6L508.9,237.2L511.7,236.6M536.1,233.9L531.6,237.2M532.8,234.7L531.6,237.2L534.4,236.8M558.8,234.0L554.9,237.2M556.0,234.6L554.9,237.2L557.7,236.6M584.4,235.8L575.3,235.4M578.2,234.0L575.3,235.4L578.0,237.0M608.4,237.0L597.3,234.2M601.2,233.2L597.3,234.2L600.3,236.9M632.3,235.6L619.4,235.6M623.3,233.4L619.4,235.6L623.3,237.7M655.4,235.3L642.3,235.8M646.3,233.5L642.3,235.8L646.4,237.8M679.3,235.6L664.4,235.6M668.6,233.3L664.4,235.6L668.6,237.9M182.3,253.6L172.4,256.2M175.0,253.8L172.4,256.2L175.9,257.1M205.3,253.6L195.4,256.2M198.0,253.8L195.4,256.2L198.9,257.1M227.7,252.0L219.0,257.9M220.7,254.6L219.0,257.9L222.6,257.5M250.4,251.0L242.3,258.8M243.5,255.1L242.3,258.8L246.1,257.8M272.9,250.7L265.8,259.2M266.6,255.4L265.8,259.2L269.4,257.8M296.1,250.7L288.6,259.2M289.5,255.3L288.6,259.2L292.3,257.8M319.0,249.9L311.7,260.0M312.2,255.6L311.7,260.0L315.6,258.1M341.5,249.4L335.2,260.5M335.3,256.0L335.2,260.5L339.0,258.1M364.6,249.5L358.1,260.3M358.3,255.9L358.1,260.3L361.9,258.1M387.4,249.6L381.3,260.3M381.4,256.0L381.3,260.3L385.0,258.0M410.1,249.3L404.6,260.6M404.4,256.2L404.6,260.6L408.2,258.0M432.6,249.2L428.1,260.7M427.6,256.4L428.1,260.7L431.4,257.9M456.0,249.3L450.7,260.6M450.4,256.2L450.7,260.6L454.2,258.0M479.1,249.8L473.6,260.1M473.6,256.0L473.6,260.1L477.0,257.8M502.6,253.5L496.1,256.4M497.8,254.1L496.1,256.4L498.9,256.6M524.6,253.4L520.1,256.5M521.3,254.0L520.1,256.5L522.9,256.2M549.0,253.9L541.7,256.0M543.7,254.0L541.7,256.0L544.4,256.6M573.3,258.4L563.4,251.5M567.6,252.0L563.4,251.5L565.3,255.3M596.4,254.9L586.3,254.9M589.4,253.3L586.3,254.9L589.4,256.6M618.6,258.5L610.1,251.4M613.9,252.2L610.1,251.4L611.5,255.0M643.3,255.3L631.4,254.6M635.2,252.8L631.4,254.6L634.9,256.8M666.1,253.4L654.6,256.5M657.6,253.6L654.6,256.5L658.6,257.5M171.8,273.8L159.9,274.8M163.4,272.5L159.9,274.8L163.7,276.5M194.0,273.1L183.7,275.5M186.4,273.0L183.7,275.5L187.2,276.5M216.7,272.6L207.0,276.0M209.4,273.3L207.0,276.0L210.6,276.6M239.4,270.7L230.3,277.9M231.9,274.2L230.3,277.9L234.3,277.2M262.4,270.4L253.3,278.2M254.8,274.2L253.3,278.2L257.4,277.3M285.0,269.9L276.7,278.7M277.8,274.6L276.7,278.7L280.7,277.4M308.0,269.4L299.7,279.2M300.6,274.8L299.7,279.2L303.9,277.6M331.0,269.3L322.7,279.3M323.6,274.8L322.7,279.3L326.9,277.6M354.0,269.4L345.7,279.2M346.6,274.8L345.7,279.2L349.9,277.6M376.5,269.0L369.2,279.6M369.6,275.1L369.2,279.6L373.2,277.6M398.8,268.0L392.9,280.6M392.6,275.9L392.9,280.6L396.8,277.8M421.3,268.5L416.4,280.1M416.0,275.7L416.4,280.1L419.9,277.4M443.4,268.5L440.3,280.1M439.3,276.0L440.3,280.1L443.2,277.1M467.2,268.7L462.5,279.9M462.1,275.6L462.5,279.9L465.8,277.2M492.1,272.4L483.6,276.2M485.5,273.6L483.6,276.2L486.8,276.5M515.8,274.3L505.9,274.3M508.9,272.6L505.9,274.3L508.9,276.0M538.8,274.3L528.9,274.3M531.9,272.6L528.9,274.3L531.9,276.0M561.6,274.0L552.1,274.6M554.9,272.8L552.1,274.6L555.1,276.0M585.3,274.4L574.4,274.2M577.8,272.4L574.4,274.2L577.7,276.1M608.8,274.3L596.9,274.3M600.5,272.3L596.9,274.3L600.5,276.3M631.4,276.4L620.3,272.2M624.4,271.6L620.3,272.2L623.0,275.3M654.7,273.5L643.0,275.1M646.3,272.7L643.0,275.1L646.9,276.6M677.6,272.7L666.1,275.9M669.1,273.0L666.1,275.9L670.1,276.8M182.6,292.8L172.1,294.5M175.0,292.2L172.1,294.5L175.6,295.8M205.0,292.0L195.7,295.4M198.0,292.8L195.7,295.4L199.1,295.9M228.2,291.8L218.5,295.5M220.9,292.8L218.5,295.5L222.1,296.0M251.1,290.4L241.6,296.9M243.5,293.3L241.6,296.9L245.6,296.5M274.0,289.9L264.7,297.4M266.3,293.6L264.7,297.4L268.8,296.7M296.5,288.7L288.2,298.6M289.1,294.2L288.2,298.6L292.4,297.0M319.7,288.8L311.0,298.5M312.1,294.1L311.0,298.5L315.3,297.0M342.9,289.0L333.8,298.4M335.0,294.0L333.8,298.4L338.2,297.0M366.3,289.5L356.4,297.8M358.0,293.6L356.4,297.8L360.8,297.0M388.1,288.0L380.6,299.4M381.0,294.6L380.6,299.4L384.8,297.1M410.2,287.6L404.5,299.7M404.2,295.1L404.5,299.7L408.3,297.0M432.9,288.2L427.8,299.1M427.5,294.9L427.8,299.1L431.2,296.6M455.7,288.5L451.0,298.9M450.7,294.9L451.0,298.9L454.2,296.4M479.5,290.2L473.2,297.1M474.0,293.9L473.2,297.1L476.3,296.1M503.0,291.1L495.7,296.3M497.1,293.4L495.7,296.3L498.8,295.9M526.0,292.4L518.7,294.9M520.6,292.9L518.7,294.9L521.5,295.4M549.3,293.0L541.4,294.4M543.6,292.6L541.4,294.4L544.1,295.3M573.0,292.0L563.7,295.4M566.0,292.8L563.7,295.4L567.1,295.9M597.0,293.7L585.7,293.6M589.2,291.8L585.7,293.6L589.2,295.6M620.0,296.9L608.7,290.4M613.3,290.5L608.7,290.4L611.1,294.3M643.2,293.9L631.5,293.4M635.2,291.6L631.5,293.4L635.0,295.5M665.8,293.7L654.8,293.7M658.2,291.8L654.8,293.7L658.2,295.5M170.8,312.6L160.9,313.5M163.8,311.5L160.9,313.5L164.1,314.9M194.2,312.4L183.5,313.7M186.6,311.5L183.5,313.7L187.0,315.1M217.4,312.2L206.3,313.9M209.4,311.5L206.3,313.9L210.0,315.2M239.8,310.5L229.9,315.5M232.1,312.3L229.9,315.5L233.8,315.7M262.6,310.3L253.1,315.8M255.1,312.5L253.1,315.8L256.9,315.7M285.5,308.9L276.2,317.1M277.7,313.1L276.2,317.1L280.4,316.2M308.3,308.3L299.4,317.8M300.6,313.4L299.4,317.8L303.7,316.4M331.4,308.4L322.3,317.6M323.5,313.3L322.3,317.6L326.6,316.4M354.3,307.8L345.4,318.3M346.4,313.6L345.4,318.3L349.9,316.6M376.8,307.2L368.9,318.9M369.3,314.1L368.9,318.9L373.1,316.7M398.8,306.7L392.9,319.4M392.6,314.6L392.9,319.4L396.8,316.5M421.4,307.1L416.3,319.0M415.9,314.5L416.3,319.0L419.9,316.2M444.3,307.6L439.4,318.4M439.1,314.3L439.4,318.4L442.7,315.9M467.4,308.7L462.3,317.4M462.4,313.9L462.3,317.4L465.3,315.5M490.7,310.7L485.0,315.4M486.0,312.8L485.0,315.4L487.8,314.9M513.8,312.5L507.9,313.6M510.1,311.8L507.9,313.6L510.5,314.5M535.5,311.1L532.2,315.0M532.8,312.2L532.2,315.0L534.9,313.9M561.0,312.5L552.7,313.5M555.1,311.8L552.7,313.5L555.4,314.6M585.3,313.0L574.4,313.0M577.7,311.2L574.4,313.0L577.7,314.9M608.5,313.9L597.2,312.2M601.0,310.8L597.2,312.2L600.4,314.6M631.2,311.6L620.5,314.5M623.3,311.8L620.5,314.5L624.3,315.4M654.4,311.4L643.3,314.7M646.2,311.8L643.3,314.7L647.3,315.5M677.3,310.5L666.4,315.6M668.9,312.2L666.4,315.6L670.6,315.8M183.0,332.2L171.7,332.6M175.1,330.6L171.7,332.6L175.2,334.4M206.3,332.4L194.4,332.4M198.0,330.4L194.4,332.4L198.0,334.4M229.2,331.8L217.5,333.0M220.9,330.7L217.5,333.0L221.3,334.6M251.3,329.8L241.4,335.0M243.6,331.8L241.4,335.0L245.3,335.1M274.2,329.1L264.5,335.7M266.4,332.1L264.5,335.7L268.6,335.3M296.9,327.8L287.8,337.0M289.0,332.6L287.8,337.0L292.1,335.7M319.4,327.3L311.3,337.5M312.1,333.0L311.3,337.5L315.5,335.7M342.5,326.8L334.2,338.0M334.9,333.2L334.2,338.0L338.6,336.0M365.1,325.9L357.6,338.9M357.7,334.1L357.6,338.9L361.7,336.4M387.7,326.2L381.0,338.7M380.9,333.9L381.0,338.7L385.0,336.1M410.0,326.2L404.7,338.6M404.3,333.9L404.7,338.6L408.4,335.7M432.6,326.3L428.1,338.5M427.4,334.0L428.1,338.5L431.5,335.5M456.3,327.4L450.4,337.4M450.6,333.4L450.4,337.4L453.9,335.3M479.4,329.1L473.3,335.8M474.1,332.7L473.3,335.8L476.3,334.7M501.0,330.5L497.7,334.3M498.3,331.6L497.7,334.3L500.4,333.3M525.2,331.4L519.5,333.4M521.4,331.3L519.5,333.4L522.3,333.8M548.6,332.2L542.1,332.6M544.5,331.1L542.1,332.6L544.6,333.8M571.6,334.7L565.1,330.1M567.9,330.4L565.1,330.1L566.3,332.6M596.4,333.4L586.3,331.4M589.8,330.3L586.3,331.4L589.1,333.7M619.7,333.8L609.0,331.0M612.8,330.1L609.0,331.0L611.8,333.6M643.0,331.5L631.7,333.3M634.9,330.9L631.7,333.3L635.5,334.6M665.5,329.4L655.2,335.4M657.3,331.8L655.2,335.4L659.4,335.3M171.8,351.8L159.8,351.8M163.5,349.8L159.8,351.8L163.5,353.8M194.8,351.6L182.9,352.0M186.5,349.8L182.9,352.0L186.6,353.9M217.9,351.4L205.8,352.2M209.4,349.9L205.8,352.2L209.7,354.0M240.1,349.1L229.6,354.5M231.9,351.1L229.6,354.5L233.7,354.6M262.8,349.5L252.9,354.1M255.1,351.0L252.9,354.1L256.7,354.3M285.3,347.2L276.4,356.4M277.6,352.0L276.4,356.4L280.7,355.1M307.1,346.2L300.6,357.4M300.7,352.9L300.6,357.4L304.5,355.0M330.1,345.8L323.6,357.7M323.6,353.0L323.6,357.7L327.6,355.2M353.2,345.5L346.5,358.0M346.5,353.2L346.5,358.0L350.5,355.4M376.4,345.7L369.4,357.8M369.5,353.0L369.4,357.8L373.4,355.3M398.6,345.6L393.1,358.0M392.7,353.2L393.1,358.0L396.9,355.1M421.0,345.9L416.7,357.7M416.0,353.3L416.7,357.7L420.0,354.8M443.9,346.1L439.8,357.4M439.2,353.3L439.8,357.4L443.0,354.6M469.1,348.2L460.6,355.3M462.0,351.7L460.6,355.3L464.4,354.6M491.5,349.0L484.2,354.6M485.5,351.6L484.2,354.6L487.4,354.1M514.6,351.2L507.1,352.4M509.3,350.7L507.1,352.4L509.7,353.3M537.3,351.8L530.3,351.8M532.8,350.4L530.3,351.8L532.8,353.1M561.1,352.3L552.6,351.2M555.4,350.1L552.6,351.2L555.0,353.0M585.1,352.6L574.6,351.0M578.1,349.7L574.6,351.0L577.6,353.2M608.3,351.8L597.3,351.8M600.7,349.9L597.3,351.8L600.7,353.6M631.3,351.0L620.4,352.6M623.5,350.2L620.4,352.6L624.0,353.9M654.2,349.2L643.5,354.4M645.9,351.0L643.5,354.4L647.7,354.6M677.5,349.7L666.2,353.8M669.0,350.7L666.2,353.8L670.4,354.5M183.5,370.5L171.2,371.8M174.8,369.4L171.2,371.8L175.2,373.5M206.3,371.1L194.4,371.2M198.0,369.1L194.4,371.2L198.0,373.2M228.5,367.2L218.2,375.1M220.1,370.9L218.2,375.1L222.7,374.4M250.9,366.3L241.8,376.0M243.0,371.5L241.8,376.0L246.2,374.5M273.8,365.8L264.9,376.5M265.8,371.8L264.9,376.5L269.3,374.8M296.0,365.2L288.7,377.1M288.9,372.3L288.7,377.1L292.9,374.7M318.4,364.8L312.3,377.5M312.1,372.7L312.3,377.5L316.2,374.7M341.3,364.8L335.4,377.5M335.1,372.7L335.4,377.5L339.3,374.6M364.2,364.9L358.5,377.4M358.2,372.6L358.5,377.4L362.4,374.5M386.6,365.0L382.1,377.3M381.4,372.8L382.1,377.3L385.5,374.3M409.4,364.8L405.3,377.5M404.4,372.9L405.3,377.5L408.7,374.3M432.8,365.6L427.9,376.7M427.6,372.5L427.9,376.7L431.3,374.1M457.4,367.4L449.3,374.9M450.5,371.2L449.3,374.9L453.0,374.0M480.4,368.3L472.3,374.0M473.8,370.9L472.3,374.0L475.7,373.6M503.9,369.7L494.8,372.6M497.1,370.2L494.8,372.6L498.1,373.2M527.1,371.1L517.6,371.2M520.5,369.6L517.6,371.2L520.5,372.7M549.5,370.6L541.2,371.7M543.5,370.0L541.2,371.7L543.9,372.8M574.3,371.2L562.4,371.1M566.0,369.1L562.4,371.1L566.0,373.2M596.6,369.6L586.1,372.7M588.8,370.0L586.1,372.7L589.8,373.5M619.3,368.8L609.4,373.5M611.6,370.4L609.4,373.5L613.2,373.7M642.5,369.4L632.2,372.9M634.8,370.1L632.2,372.9L635.9,373.5M665.3,367.7L655.4,374.6M657.3,370.8L655.4,374.6L659.6,374.1M172.8,390.5L158.8,390.5M163.1,388.2L158.8,390.5L163.1,392.8M194.0,388.6L183.7,392.4M186.2,389.5L183.7,392.4L187.5,393.0M216.1,386.3L207.6,394.8M208.8,390.7L207.6,394.8L211.6,393.6M238.0,383.7L231.7,397.3M231.4,392.5L231.7,397.3L235.5,394.5M262.4,385.9L253.3,395.1M254.5,390.8L253.3,395.1L257.6,393.8M284.9,384.9L276.8,396.2M277.4,391.4L276.8,396.2L281.1,394.1M306.4,383.5L301.3,397.6M300.6,392.8L301.3,397.6L304.9,394.4M329.6,383.9L324.1,397.1M323.6,392.3L324.1,397.1L327.9,394.1M352.0,384.0L347.7,397.0M346.8,392.3L347.7,397.0L351.2,393.7M374.3,384.0L371.4,397.0M370.1,392.5L371.4,397.0L374.5,393.5M397.7,383.8L394.0,397.3M392.9,392.6L394.0,397.3L397.4,393.8M420.4,384.3L417.3,396.7M416.2,392.4L417.3,396.7L420.3,393.4M444.9,385.7L438.8,395.4M439.0,391.3L438.8,395.4L442.3,393.4M469.8,388.2L459.9,392.8M462.1,389.7L459.9,392.8L463.7,393.1M491.9,387.4L483.8,393.7M485.2,390.4L483.8,393.7L487.4,393.1M513.7,387.3L508.0,393.7M508.7,390.8L508.0,393.7L510.8,392.7M534.4,387.6L533.3,393.5M532.4,390.8L533.3,393.5L535.1,391.3M562.5,392.6L551.2,388.5M555.4,387.8L551.2,388.5L554.0,391.6M584.9,388.4L574.8,392.6M577.2,389.6L574.8,392.6L578.6,393.0M606.7,387.3L599.0,393.7M600.3,390.5L599.0,393.7L602.5,393.0M630.8,389.0L620.9,392.0M623.4,389.5L620.9,392.0L624.5,392.8M653.8,390.5L643.8,390.5M646.9,388.8L643.8,390.5L646.9,392.2M677.0,389.0L666.7,392.0M669.4,389.4L666.7,392.0L670.4,392.8M183.6,409.0L171.1,410.8M174.7,408.1L171.1,410.8L175.2,412.3M206.3,409.4L194.4,410.4M197.9,408.1L194.4,410.4L198.2,412.1M228.3,406.4L218.4,413.3M220.3,409.6L218.4,413.3L222.6,412.9M251.1,407.1L241.6,412.6M243.6,409.4L241.6,412.6L245.4,412.5M273.4,404.2L265.3,415.6M265.9,410.9L265.3,415.6L269.6,413.5M295.1,403.3L289.6,416.4M289.1,411.7L289.6,416.4L293.4,413.4M317.5,403.1L313.2,416.7M312.3,412.0L313.2,416.7L316.6,413.4M341.3,403.5L335.4,416.2M335.1,411.4L335.4,416.2L339.3,413.4M361.9,403.4L360.8,416.4M359.0,412.2L360.8,416.4L363.3,412.6M385.4,403.2L383.3,416.6M381.7,412.1L383.3,416.6L386.2,412.8M408.7,403.5L406.0,416.2M404.7,411.9L406.0,416.2L409.0,412.8M431.4,404.0L429.3,415.8M428.0,411.8L429.3,415.8L431.9,412.5M455.9,405.0L450.8,414.8M450.7,410.9L450.8,414.8L454.0,412.6M480.1,406.5L472.6,413.3M473.8,409.9L472.6,413.3L476.0,412.5M502.2,405.8L496.5,414.0M496.9,410.5L496.5,414.0L499.6,412.4M523.0,406.0L521.7,413.8M520.8,411.2L521.7,413.8L523.4,411.6M550.3,409.9L540.4,409.9M543.4,408.2L540.4,409.9L543.4,411.6M570.9,405.6L565.8,414.2M565.9,410.7L565.8,414.2L568.8,412.4M594.9,406.4L587.8,413.4M588.8,410.1L587.8,413.4L591.2,412.4M619.3,409.7L609.4,410.1M612.4,408.3L609.4,410.1L612.5,411.6M642.3,409.0L632.4,410.8M635.2,408.6L632.4,410.8L635.7,411.9M664.9,409.4L655.8,410.4M658.4,408.5L655.8,410.4L658.8,411.6M172.4,429.3L159.3,429.3M163.3,427.1L159.3,429.3L163.3,431.4M194.5,426.1L183.2,432.4M185.6,428.6L183.2,432.4L187.7,432.4M214.4,423.8L209.3,434.7M209.0,430.5L209.3,434.7L212.7,432.2M240.2,425.5L229.5,433.0M231.5,428.9L229.5,433.0L234.0,432.5M262.2,424.5L253.5,434.0M254.6,429.6L253.5,434.0L257.8,432.6M283.6,422.9L278.1,435.6M277.7,430.9L278.1,435.6L281.9,432.7M305.1,422.4L302.6,436.2M301.1,431.6L302.6,436.2L305.6,432.4M329.0,422.6L324.7,435.9M323.8,431.2L324.7,435.9L328.2,432.6M351.6,422.6L348.1,435.9M347.0,431.2L348.1,435.9L351.4,432.4M373.5,422.3L372.2,436.2M370.3,431.8L372.2,436.2L374.9,432.2M396.8,422.9L394.9,435.6M393.3,431.4L394.9,435.6L397.6,432.0M420.1,423.9L417.6,434.7M416.5,430.9L417.6,434.7L420.2,431.8M443.3,423.9L440.4,434.6M439.5,430.8L440.4,434.6L443.1,431.8M466.0,425.2L463.7,433.3M463.0,430.4L463.7,433.3L465.8,431.2M490.4,426.3L485.3,432.2M485.9,429.5L485.3,432.2L487.9,431.3M513.1,427.3L508.6,431.2M509.6,428.6L508.6,431.2L511.3,430.6M536.6,428.0L531.1,430.5M532.8,428.3L531.1,430.5L533.9,430.7M560.8,429.0L552.9,429.6M555.2,428.0L552.9,429.6L555.4,430.7M582.0,425.0L577.7,433.5M577.6,430.2L577.7,433.5L580.5,431.6M604.0,425.4L601.7,433.2M601.1,430.4L601.7,433.2L603.7,431.2M629.7,432.5L622.0,426.0M625.5,426.7L622.0,426.0L623.3,429.3M652.9,429.5L644.8,429.0M647.4,427.8L644.8,429.0L647.2,430.5M675.8,428.6L667.9,430.0M670.1,428.2L667.9,430.0L670.6,430.8M184.0,445.7L170.7,451.6M173.6,447.8L170.7,451.6L175.5,452.0M205.7,443.3L195.0,453.9M196.4,449.3L195.0,453.9L199.7,452.6M228.3,443.3L218.4,453.9M219.6,449.3L218.4,453.9L223.0,452.4M250.6,443.3L242.1,454.0M242.9,449.3L242.1,454.0L246.5,452.1M271.7,442.1L267.0,455.2M266.2,450.5L267.0,455.2L270.6,452.0M294.5,442.0L290.2,455.3M289.3,450.6L290.2,455.3L293.7,452.0M317.4,441.9L313.3,455.4M312.3,450.7L313.3,455.4L316.8,452.0M340.7,442.1L336.0,455.2M335.2,450.5L336.0,455.2L339.6,452.0M363.1,442.6L359.6,454.7M358.6,450.4L359.6,454.7L362.7,451.6M385.4,442.7L383.3,454.5M382.0,450.6L383.3,454.5L385.9,451.3M408.9,443.2L405.8,454.0M405.0,450.2L405.8,454.0L408.6,451.2M431.9,445.4L428.8,451.9M428.6,449.1L428.8,451.9L431.1,450.3M453.9,445.7L452.8,451.6M451.9,448.9L452.8,451.6L454.6,449.4M477.1,445.4L475.6,451.9M474.8,449.2L475.6,451.9L477.5,449.8M498.7,452.6L500.0,444.6M500.9,447.3L500.0,444.6L498.3,446.9M521.3,452.5L523.4,444.8M524.0,447.5L523.4,444.8L521.5,446.8M545.0,452.6L545.7,444.6M546.8,447.2L545.7,444.6L544.1,447.0M565.8,452.4L570.9,444.8M570.6,448.0L570.9,444.8L568.1,446.3M588.1,446.7L594.6,450.6M591.8,450.5L594.6,450.6L593.2,448.2M612.4,446.3L616.3,450.9M613.7,449.9L616.3,450.9L615.7,448.2M634.1,446.6L640.6,450.6M637.8,450.5L640.6,450.6L639.2,448.2M662.8,448.6L657.8,448.6M660.3,447.3L657.8,448.6L660.3,450.0M172.9,465.4L158.8,470.6M162.0,467.0L158.8,470.6L163.5,471.3M195.4,463.4L182.3,472.6M184.4,468.3L182.3,472.6L187.1,472.1M217.9,462.0L205.8,474.0M207.2,469.4L205.8,474.0L210.4,472.7M240.3,462.4L229.4,473.6M230.7,468.9L229.4,473.6L234.0,472.2M261.6,461.8L254.1,474.2M254.3,469.4L254.1,474.2L258.3,471.7M283.2,461.4L278.5,474.6M277.7,469.8L278.5,474.6L282.1,471.4M306.9,461.5L300.8,474.5M300.5,469.7L300.8,474.5L304.7,471.7M330.0,461.6L323.7,474.4M323.5,469.7L323.7,474.4L327.6,471.7M352.6,462.6L347.1,473.4M347.0,469.1L347.1,473.4L350.6,471.0M375.2,463.0L370.5,473.0M370.3,469.1L370.5,473.0L373.6,470.7M398.0,462.8L393.7,473.2M393.3,469.3L393.7,473.2L396.8,470.7M421.2,466.6L416.5,469.4M417.9,467.0L416.5,469.4L419.3,469.3M443.5,466.1L440.2,469.9M440.8,467.2L440.2,469.9L442.9,468.9M466.2,465.3L463.5,470.7M463.4,467.9L463.5,470.7L465.8,469.1M485.5,472.1L490.2,463.9M490.1,467.2L490.2,463.9L487.4,465.6M508.6,471.9L513.1,464.1M513.0,467.3L513.1,464.1L510.4,465.7M530.7,472.5L537.0,463.5M536.6,467.3L537.0,463.5L533.6,465.2M552.8,470.9L560.9,465.1M559.4,468.3L560.9,465.1L557.5,465.5M576.0,470.7L583.7,465.3M582.2,468.2L583.7,465.3L580.4,465.7M599.4,466.0L606.3,470.0M603.5,469.9L606.3,470.0L604.9,467.6M622.2,466.4L629.5,469.6M626.7,469.9L629.5,469.6L627.8,467.4M644.4,468.0L653.3,468.0M650.6,469.5L653.3,468.0L650.6,466.5M668.4,465.1L675.3,470.9M672.2,470.3L675.3,470.9L674.2,468.0M184.3,482.5L170.4,492.2M172.5,487.9L170.4,492.2L175.2,491.7M206.8,482.2L193.9,492.5M195.8,488.1L193.9,492.5L198.6,491.7M229.0,482.2L217.7,492.5M219.3,488.0L217.7,492.5L222.4,491.4M251.7,482.1L241.0,492.7M242.4,488.1L241.0,492.7L245.7,491.3M273.5,481.5L265.2,493.3M265.8,488.5L265.2,493.3L269.5,491.1M296.4,481.6L288.3,493.2M288.8,488.4L288.3,493.2L292.6,491.0M319.1,480.9L311.6,493.9M311.7,489.1L311.6,493.9L315.7,491.4M342.2,482.2L334.5,492.6M335.1,488.1L334.5,492.6L338.6,490.7M364.5,482.9L358.2,491.9M358.6,488.0L358.2,491.9L361.6,490.2M388.1,483.7L380.6,491.1M381.7,487.5L380.6,491.1L384.1,490.1M410.5,486.9L404.2,487.8M406.5,486.1L404.2,487.8L406.9,488.8M432.8,487.4L427.8,487.4M430.3,486.0L427.8,487.4L430.3,488.7M455.4,490.2L451.3,484.6M453.8,485.8L451.3,484.6L451.7,487.4M474.6,492.1L478.1,482.7M478.6,486.1L478.1,482.7L475.4,485.0M496.8,491.7L501.8,483.0M501.8,486.5L501.8,483.0L498.9,484.9M519.3,492.6L525.3,482.2M525.3,486.4L525.3,482.2L521.8,484.4M543.2,491.9L547.5,482.8M547.7,486.3L547.5,482.8L544.6,484.9M566.6,492.1L570.1,482.7M570.6,486.1L570.1,482.7L567.4,485.0M587.8,490.0L594.9,484.7M593.6,487.5L594.9,484.7L591.8,485.2M610.0,486.3L618.7,488.4M615.7,489.2L618.7,488.4L616.4,486.3M633.1,485.8L641.6,488.9M638.5,489.4L641.6,488.9L639.5,486.5M655.9,487.0L664.8,487.8M661.9,489.0L664.8,487.8L662.2,486.0M172.0,502.4L159.7,511.0M161.8,506.7L159.7,511.0L164.5,510.5M195.4,502.9L182.3,510.6M184.8,506.5L182.3,510.6L187.1,510.4M217.9,503.1L205.8,510.4M208.2,506.3L205.8,510.4L210.6,510.2M240.2,502.2L229.5,511.2M231.2,506.8L229.5,511.2L234.2,510.3M262.9,502.0L252.8,511.4M254.3,506.9L252.8,511.4L257.4,510.3M286.5,503.4L275.2,510.0M277.6,506.1L275.2,510.0L279.8,509.9M308.8,501.8L298.9,511.7M300.3,507.1L298.9,511.7L303.5,510.3M332.2,503.4L321.5,510.1M323.7,506.2L321.5,510.1L325.9,509.8M354.6,505.1L345.1,508.3M347.5,505.7L345.1,508.3L348.5,509.0M377.5,505.0L368.2,508.5M370.5,505.8L368.2,508.5L371.6,509.0M400.7,505.6L391.0,507.8M393.6,505.5L391.0,507.8L394.4,508.8M419.2,510.6L418.5,502.9M420.1,505.2L418.5,502.9L417.4,505.5M438.8,506.7L444.8,506.7M442.4,508.1L444.8,506.7L442.4,505.4M463.9,512.2L465.8,501.3M467.0,505.0L465.8,501.3L463.4,504.3M486.4,511.9L489.3,501.6M490.1,505.2L489.3,501.6L486.7,504.3M509.0,511.9L512.7,501.6M513.3,505.4L512.7,501.6L509.8,504.1M531.4,511.5L536.3,502.0M536.4,505.7L536.3,502.0L533.2,504.1M554.5,510.9L559.2,502.5M559.2,505.9L559.2,502.5L556.3,504.3M577.3,509.8L582.4,503.7M581.9,506.4L582.4,503.7L579.8,504.7M599.2,509.4L606.5,504.1M605.2,506.9L606.5,504.1L603.4,504.5M620.8,506.7L630.8,506.7M627.8,508.4L630.8,506.7L627.8,505.1M644.0,506.9L653.7,506.6M650.8,508.3L653.7,506.6L650.7,505.0M666.9,506.3L676.8,507.2M673.6,508.6L676.8,507.2L673.9,505.2M183.6,525.7L171.1,526.6M174.8,524.2L171.1,526.6L175.1,528.4M206.7,523.2L194.0,529.1M196.9,525.2L194.0,529.1L198.8,529.4M229.5,524.9L217.2,527.3M220.6,524.5L217.2,527.3L221.4,528.6M252.3,524.5L240.4,527.8M243.5,524.8L240.4,527.8L244.6,528.7M273.5,521.1L265.2,531.1M266.1,526.6L265.2,531.1L269.4,529.4M298.1,527.7L286.6,524.6M290.6,523.6L286.6,524.6L289.6,527.5M321.1,527.0L309.6,525.2M313.5,523.8L309.6,525.2L312.8,527.7M343.3,526.1L333.4,526.1M336.4,524.4L333.4,526.1L336.4,527.8M365.8,525.3L356.9,526.9M359.4,524.9L356.9,526.9L359.9,527.9M389.6,527.2L379.1,525.1M382.7,523.9L379.1,525.1L382.0,527.5M407.9,531.5L406.8,520.7M409.0,523.8L406.8,520.7L405.3,524.2M430.3,531.6L430.4,520.6M432.2,524.0L430.4,520.6L428.5,524.0M452.1,531.0L454.6,521.2M455.5,524.7L454.6,521.2L452.2,523.8M475.7,531.5L477.0,520.7M478.4,524.3L477.0,520.7L474.8,523.8M498.9,531.6L499.8,520.6M501.4,524.2L499.8,520.6L497.7,523.8M521.6,531.6L523.1,520.6M524.5,524.2L523.1,520.6L520.8,523.7M542.9,530.4L547.8,521.8M547.8,525.3L547.8,521.8L544.9,523.6M565.7,529.9L571.0,522.4M570.6,525.6L571.0,522.4L568.1,523.8M588.2,529.3L594.5,522.9M593.6,526.0L594.5,522.9L591.5,523.8M610.5,529.1L618.2,523.1M616.8,526.3L618.2,523.1L614.8,523.7M632.7,527.8L642.0,524.4M639.7,527.0L642.0,524.4L638.6,523.9M655.5,527.4L665.2,524.8M662.6,527.2L665.2,524.8L661.8,524.0M169.5,548.1L162.2,542.9M165.3,543.2L162.2,542.9L163.6,545.7M194.0,548.2L183.7,542.8M187.8,542.7L183.7,542.8L186.0,546.2M217.8,546.4L205.9,544.5M209.9,543.1L205.9,544.5L209.2,547.1M239.2,548.0L230.5,543.0M234.0,543.1L230.5,543.0L232.3,546.0M263.1,548.1L252.6,542.9M256.7,542.7L252.6,542.9L255.0,546.2M286.5,546.9L275.2,544.0M279.1,543.0L275.2,544.0L278.2,546.8M306.7,549.6L301.0,541.4M304.1,542.9L301.0,541.4L301.4,544.9M331.1,548.9L322.6,542.0M326.4,542.7L322.6,542.0L324.1,545.6M354.9,547.5L344.8,543.5M348.6,543.0L344.8,543.5L347.2,546.4M376.1,551.1L369.6,539.9M373.5,542.2L369.6,539.9L369.7,544.4M399.1,550.6L392.6,540.3M396.3,542.4L392.6,540.3L392.9,544.6M419.5,551.2L418.2,539.8M420.5,543.1L418.2,539.8L416.7,543.5M442.9,551.4L440.8,539.6M443.4,542.9L440.8,539.6L439.5,543.6M466.4,551.2L463.3,539.7M466.2,542.7L463.3,539.7L462.3,543.8M488.7,551.3L487.0,539.7M489.5,543.0L487.0,539.7L485.6,543.5M510.8,551.5L510.8,539.5M512.9,543.2L510.8,539.5L508.8,543.2M533.8,551.0L533.8,540.0M535.7,543.4L533.8,540.0L532.0,543.4M555.9,550.7L557.8,540.2M559.0,543.8L557.8,540.2L555.5,543.1M577.5,549.7L582.2,541.3M582.2,544.7L582.2,541.3L579.4,543.1M601.1,550.2L604.6,540.8M605.1,544.2L604.6,540.8L601.9,543.1M622.7,549.5L629.0,541.5M628.4,545.0L629.0,541.5L625.7,542.9M644.8,547.4L652.9,543.6M651.1,546.1L652.9,543.6L649.8,543.4M667.3,547.6L676.4,543.4M674.3,546.2L676.4,543.4L672.9,543.1M180.8,569.8L173.9,559.9M177.7,561.8L173.9,559.9L174.4,564.1M204.0,569.5L196.7,560.2M200.5,561.8L196.7,560.2L197.4,564.3M226.9,569.5L219.8,560.2M223.6,561.8L219.8,560.2L220.4,564.2M248.9,570.3L243.8,559.4M247.2,561.9L243.8,559.4L243.5,563.6M272.5,570.0L266.2,559.7M269.9,561.8L266.2,559.7L266.4,563.9M295.4,570.1L289.3,559.6M292.9,561.8L289.3,559.6L289.4,563.8M318.8,569.8L311.9,559.9M315.7,561.8L311.9,559.9L312.4,564.1M341.9,569.7L334.8,560.0M338.6,561.8L334.8,560.0L335.3,564.1M364.4,570.5L358.3,559.2M362.1,561.6L358.3,559.2L358.3,563.7M387.4,570.0L381.3,559.7M384.9,561.8L381.3,559.7L381.4,563.9M410.1,570.3L404.6,559.4M408.1,561.8L404.6,559.4L404.5,563.7M432.2,570.8L428.5,558.9M431.6,562.0L428.5,558.9L427.7,563.2M455.4,570.7L451.3,559.0M454.5,561.9L451.3,559.0L450.6,563.3M478.9,570.3L473.8,559.4M477.2,561.9L473.8,559.4L473.5,563.6M500.5,570.7L498.2,559.0M500.9,562.2L498.2,559.0L497.0,563.0M522.4,570.6L522.3,559.1M524.3,562.6L522.3,559.1L520.4,562.6M545.3,570.4L545.4,559.3M547.2,562.7L545.4,559.3L543.5,562.7M568.1,570.4L568.6,559.3M570.3,562.8L568.6,559.3L566.6,562.6M589.9,569.9L592.8,559.8M593.6,563.4L592.8,559.8L590.2,562.4M613.4,570.3L615.3,559.4M616.5,563.1L615.3,559.4L612.9,562.4M634.8,569.4L639.9,560.3M639.8,564.0L639.9,560.3L636.8,562.3M657.2,568.0L663.5,561.7M662.6,564.7L663.5,561.7L660.5,562.6M169.0,587.4L162.7,581.0M165.7,581.9L162.7,581.0L163.6,584.1M191.8,588.9L185.9,579.5M189.3,581.4L185.9,579.5L186.2,583.4M214.1,589.9L209.6,578.5M212.9,581.3L209.6,578.5L209.1,582.8M237.6,590.1L232.1,578.3M235.8,581.0L232.1,578.3L231.8,582.9M260.5,589.9L255.2,578.6M258.7,581.2L255.2,578.6L254.9,582.9M282.7,590.3L279.0,578.1M282.2,581.2L279.0,578.1L278.1,582.5M306.2,590.8L301.5,577.6M305.1,580.8L301.5,577.6L300.7,582.4M329.7,590.0L324.0,578.4M327.7,581.0L324.0,578.4L323.8,583.0M352.2,590.4L347.5,578.0M351.0,581.0L347.5,578.0L346.9,582.6M375.2,590.8L370.5,577.6M374.1,580.8L370.5,577.6L369.7,582.4M398.4,590.1L393.3,578.3M396.8,581.1L393.3,578.3L392.9,582.8M421.5,590.1L416.2,578.3M419.8,581.1L416.2,578.3L415.9,582.8M444.6,590.1L439.1,578.3M442.8,581.0L439.1,578.3L438.8,582.9M467.1,590.0L462.6,578.4M465.9,581.2L462.6,578.4L462.0,582.7M489.0,590.1L486.7,578.3M489.4,581.6L486.7,578.3L485.4,582.3M511.1,590.2L510.6,578.3M512.7,581.8L510.6,578.3L508.7,582.0M533.8,590.2L533.8,578.2M535.9,581.9L533.8,578.2L531.8,581.9M556.8,590.1L556.9,578.3M558.8,582.0L556.9,578.3L554.9,582.0M579.5,590.0L580.2,578.5M581.9,582.1L580.2,578.5L578.0,581.9M602.0,589.9L603.7,578.6M605.1,582.3L603.7,578.6L601.3,581.8M625.3,590.2L626.4,578.2M628.1,582.1L626.4,578.2L624.0,581.7M647.0,588.9L650.7,579.5M651.1,583.0L650.7,579.5L648.0,581.8M669.0,587.7L674.7,580.8M674.1,583.9L674.7,580.8L671.8,581.9M180.1,608.0L174.6,599.1M177.8,600.9L174.6,599.1L174.8,602.8M201.9,609.4L198.8,597.8M201.7,600.8L198.8,597.8L197.8,601.9M225.5,609.4L221.2,597.8M224.5,600.6L221.2,597.8L220.6,602.1M249.0,609.4L243.7,597.8M247.3,600.5L243.7,597.8L243.4,602.2M270.8,609.5L267.9,597.6M270.8,600.8L267.9,597.6L266.8,601.8M293.4,609.5L291.3,597.7M293.9,601.0L291.3,597.7L290.0,601.7M317.1,609.8L313.6,597.4M316.7,600.6L313.6,597.4L312.6,601.8M340.5,609.6L336.2,597.6M339.6,600.6L336.2,597.6L335.5,602.0M363.0,609.4L359.7,597.7M362.7,600.8L359.7,597.7L358.8,601.9M386.0,609.4L382.7,597.7M385.7,600.8L382.7,597.7L381.8,601.9M409.6,609.5L405.1,597.6M408.5,600.6L405.1,597.6L404.5,602.0M433.0,609.5L427.7,597.7M431.3,600.4L427.7,597.7L427.4,602.2M455.7,609.5L451.0,597.7M454.4,600.5L451.0,597.7L450.4,602.1M476.9,609.6L475.8,597.6M478.1,601.1L475.8,597.6L474.1,601.5M499.9,609.6L498.8,597.6M501.2,601.1L498.8,597.6L497.1,601.5M522.4,609.6L522.3,597.6M524.3,601.3L522.3,597.6L520.3,601.3M545.4,609.6L545.3,597.6M547.4,601.3L545.3,597.6L543.3,601.3M568.3,609.6L568.4,597.6M570.4,601.3L568.4,597.6L566.3,601.3M590.9,609.4L591.8,597.8M593.5,601.5L591.8,597.8L589.6,601.2M613.7,609.3L615.0,597.8M616.5,601.6L615.0,597.8L612.7,601.1M636.5,608.6L638.2,598.6M639.4,602.0L638.2,598.6L636.0,601.4M659.3,608.5L661.4,598.7M662.4,602.1L661.4,598.7L659.1,601.4" fill="none" stroke="#000" stroke-width="0.75"/></g>
<polyline points="155.5,104.5 169.5,104.5" fill="none" stroke="#000" stroke-width="1.20" stroke-linejoin="round"/>
<polyline points="669.0,104.5 683.0,104.5" fill="none" stroke="#000" stroke-width="1.20" stroke-linejoin="round"/>
<polyline points="155.5,235.8 169.5,235.8" fill="none" stroke="#000" stroke-width="1.20" stroke-linejoin="round"/>
<polyline points="669.0,235.8 683.0,235.8" fill="none" stroke="#000" stroke-width="1.20" stroke-linejoin="round"/>
<polyline points="155.5,366.0 169.5,366.0" fill="none" stroke="#000" stroke-width="1.20" stroke-linejoin="round"/>
<polyline points="669.0,366.0 683.0,366.0" fill="none" stroke="#000" stroke-width="1.20" stroke-linejoin="round"/>
<polyline points="155.5,498.0 169.5,498.0" fill="none" stroke="#000" stroke-width="1.20" stroke-linejoin="round"/>
<polyline points="669.0,498.0 683.0,498.0" fill="none" stroke="#000" stroke-width="1.20" stroke-linejoin="round"/>
<polyline points="165.0,590.0 165.0,604.0" fill="none" stroke="#000" stroke-width="1.20" stroke-linejoin="round"/>
<polyline points="277.5,590.0 277.5,604.0" fill="none" stroke="#000" stroke-width="1.20" stroke-linejoin="round"/>
<polyline points="391.0,590.0 391.0,604.0" fill="none" stroke="#000" stroke-width="1.20" stroke-linejoin="round"/>
<polyline points="504.0,590.0 504.0,604.0" fill="none" stroke="#000" stroke-width="1.20" stroke-linejoin="round"/>
<polyline points="617.5,590.0 617.5,604.0" fill="none" stroke="#000" stroke-width="1.20" stroke-linejoin="round"/>
<polyline points="188.4,76.5 188.4,90.5" fill="none" stroke="#000" stroke-width="1.20" stroke-linejoin="round"/>
<polyline points="291.0,76.5 291.0,90.5" fill="none" stroke="#000" stroke-width="1.20" stroke-linejoin="round"/>
<polyline points="394.0,76.5 394.0,90.5" fill="none" stroke="#000" stroke-width="1.20" stroke-linejoin="round"/>
<polyline points="496.0,76.5 496.0,90.5" fill="none" stroke="#000" stroke-width="1.20" stroke-linejoin="round"/>
<polyline points="599.0,76.5 599.0,90.5" fill="none" stroke="#000" stroke-width="1.20" stroke-linejoin="round"/>
<rect x="155.5" y="76.5" width="527.5" height="527.5" fill="none" stroke="#000" stroke-width="1.6"/>
<rect x="657" y="76.75" width="28.6" height="38.5" fill="#fff" stroke="#000" stroke-width="0.8"/>
<text x="671.3" y="90.7" font-size="14.8" text-anchor="middle">8</text>
<polyline points="660.0,101.5 682.0,101.5" fill="none" stroke="#000" stroke-width="0.80" stroke-linejoin="round"/>
<polyline points="677.0,99.5 682.0,101.5 677.0,103.5" fill="none" stroke="#000" stroke-width="0.80" stroke-linejoin="round"/>
<polyline points="422.5,289.5 424.1,293.8 428.7,294.0 425.1,296.8 426.3,301.3 422.5,298.7 418.7,301.3 419.9,296.8 416.3,294.0 420.9,293.8 422.5,289.5" fill="none" stroke="#000" stroke-width="1.00" stroke-linejoin="round"/>
<polyline points="457.5,447.2 459.1,451.5 463.7,451.7 460.1,454.6 461.3,459.0 457.5,456.5 453.7,459.0 454.9,454.6 451.3,451.7 455.9,451.5 457.5,447.2" fill="none" stroke="#000" stroke-width="1.00" stroke-linejoin="round"/>
<text x="299.0" y="27.1" font-size="14.3" text-anchor="start" font-weight="bold">2023/3/8/18UTC (12LT), Wednesday</text>
<text x="299.0" y="42.5" font-size="14.3" text-anchor="start" font-weight="bold">FV3m0b0l0_GFS025</text>
<text x="154.5" y="63.0" font-size="24.1" text-anchor="start" font-weight="normal">2m specific humidity</text>
<text x="684.9" y="63.7" font-size="23.1" text-anchor="end" font-weight="normal">g kg-1</text>
<text x="145.4" y="240.9" font-size="14.0" text-anchor="end" font-weight="normal">36°N</text>
<text x="145.2" y="503.1" font-size="14.0" text-anchor="end" font-weight="normal">32°N</text>
<text x="164.7" y="625.3" font-size="14.0" text-anchor="middle" font-weight="normal">102°W</text>
<text x="390.6" y="625.3" font-size="14.0" text-anchor="middle" font-weight="normal">98°W</text>
<text x="616.9" y="625.3" font-size="14.0" text-anchor="middle" font-weight="normal">94°W</text>
<text x="197.5" y="619.8" font-size="14.0" text-anchor="start" font-weight="normal">Min= 3.53 Max= 14.02</text>
<rect x="163.00" y="628.6" width="42.62" height="14" fill="#0000f5" stroke="#000" stroke-width="0.7"/>
<rect x="205.62" y="628.6" width="42.62" height="14" fill="#0589ff" stroke="#000" stroke-width="0.7"/>
<rect x="248.25" y="628.6" width="42.62" height="14" fill="#00f2e6" stroke="#000" stroke-width="0.7"/>
<rect x="290.88" y="628.6" width="42.62" height="14" fill="#08cf68" stroke="#000" stroke-width="0.7"/>
<rect x="333.50" y="628.6" width="42.62" height="14" fill="#35b814" stroke="#000" stroke-width="0.7"/>
<rect x="376.12" y="628.6" width="42.62" height="14" fill="#b4e60a" stroke="#000" stroke-width="0.7"/>
<rect x="418.75" y="628.6" width="42.62" height="14" fill="#ffe400" stroke="#000" stroke-width="0.7"/>
<rect x="461.38" y="628.6" width="42.62" height="14" fill="#ffaf00" stroke="#000" stroke-width="0.7"/>
<rect x="504.00" y="628.6" width="42.62" height="14" fill="#ff6e00" stroke="#000" stroke-width="0.7"/>
<rect x="546.62" y="628.6" width="42.62" height="14" fill="#ff1400" stroke="#000" stroke-width="0.7"/>
<rect x="589.25" y="628.6" width="42.62" height="14" fill="#b4003c" stroke="#000" stroke-width="0.7"/>
<rect x="631.88" y="628.6" width="42.62" height="14" fill="#5a008c" stroke="#000" stroke-width="0.7"/>
<text x="205.6" y="657.5" font-size="14.0" text-anchor="middle" font-weight="normal">4</text>
<text x="290.9" y="657.5" font-size="14.0" text-anchor="middle" font-weight="normal">6</text>
<text x="376.1" y="657.5" font-size="14.0" text-anchor="middle" font-weight="normal">8</text>
<text x="461.4" y="657.5" font-size="14.0" text-anchor="middle" font-weight="normal">10</text>
<text x="546.6" y="657.5" font-size="14.0" text-anchor="middle" font-weight="normal">12</text>
<text x="631.9" y="657.5" font-size="14.0" text-anchor="middle" font-weight="normal">14</text>
</svg></body></html>
